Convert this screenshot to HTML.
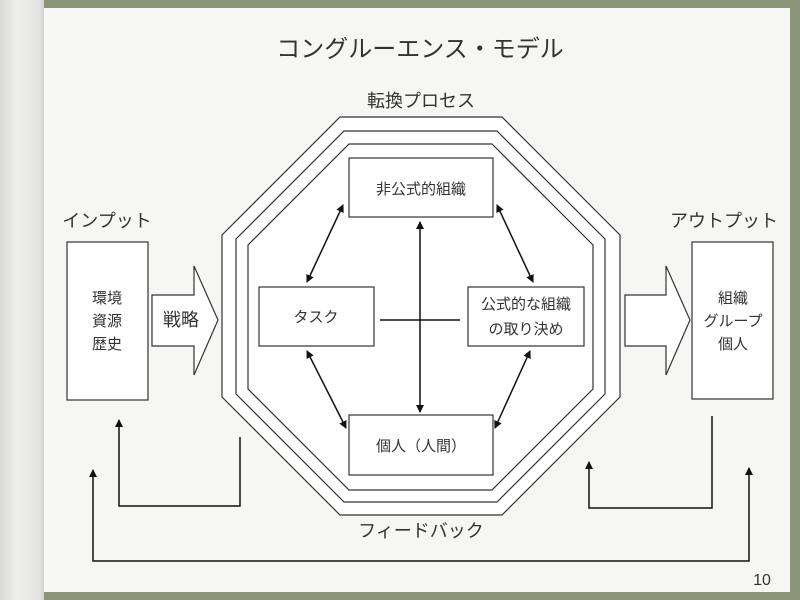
<!DOCTYPE html>
<html><head><meta charset="utf-8"><style>
html,body{margin:0;padding:0;}
body{width:800px;height:600px;overflow:hidden;background:#8c9479;position:relative;font-family:"Liberation Sans","Noto Sans CJK JP",sans-serif;}
.page{position:absolute;left:0;top:8px;width:790px;height:584px;background:#f6f6f4;}
.curl{position:absolute;left:0;top:0;width:44px;height:600px;background:linear-gradient(to right,#d8d8d6,#eeeeec 40%,#e4e4e2 90%,#cfcfcd);}
svg{position:absolute;left:0;top:0;}
text{font-family:"Liberation Sans","Noto Sans CJK JP",sans-serif;fill:#333;}
</style></head><body>
<div class="page"></div>
<div class="curl"></div>
<svg width="800" height="600" viewBox="0 0 800 600">
<defs><marker id="a" markerWidth="8" markerHeight="8" refX="7" refY="4" orient="auto-start-reverse" markerUnits="userSpaceOnUse"><path d="M0,0 L8,4 L0,8 z" fill="#111"/></marker></defs>
<g fill="#fff" stroke="#333" stroke-width="1.2">
<polygon points="340,117 502,117 620,235 620,397 502,515 340,515 222,397 222,235"/>
<polygon points="344,131 497,131 605,239 605,394 497,502 344,502 236,394 236,239"/>
<polygon points="349,144 492,144 593,245 593,389 492,490 349,490 248,389 248,245"/>
<rect x="349" y="158" width="144" height="59"/>
<rect x="259" y="287" width="115" height="59"/>
<rect x="468" y="287" width="116" height="59"/>
<rect x="349" y="415" width="144" height="60"/>
<rect x="67" y="242" width="81" height="158"/>
<rect x="692" y="242" width="81" height="157"/>
<polygon points="152,295 194,295 194,266 218,320 194,375 194,346 152,346"/>
<polygon points="625,295 666,295 666,266 690,320 666,375 666,346 625,346"/>
</g>
<g stroke="#111" stroke-width="1.5" fill="none">
<line x1="380" y1="320" x2="460" y2="320"/>
<line x1="420" y1="222" x2="420" y2="412" marker-start="url(#a)" marker-end="url(#a)"/>
<line x1="343" y1="205" x2="307" y2="282" marker-start="url(#a)" marker-end="url(#a)"/>
<line x1="307" y1="351" x2="346" y2="428" marker-start="url(#a)" marker-end="url(#a)"/>
<line x1="497" y1="205" x2="533" y2="282" marker-start="url(#a)" marker-end="url(#a)"/>
<line x1="530" y1="351" x2="495" y2="428" marker-start="url(#a)" marker-end="url(#a)"/>
<polyline points="240,437 240,506 119,506 119,420" marker-end="url(#a)"/>
<polyline points="712,416 712,508 589,508 589,462" marker-end="url(#a)"/>
<polyline points="749,468 749,561 93,561 93,470" marker-start="url(#a)" marker-end="url(#a)"/>
</g>
<text x="420" y="57" font-size="24" text-anchor="middle">コングルーエンス・モデル</text>
<text x="421" y="107" font-size="18" text-anchor="middle">転換プロセス</text>
<text x="107" y="227" font-size="18" text-anchor="middle">インプット</text>
<text x="724" y="227" font-size="18" text-anchor="middle">アウトプット</text>
<text x="421" y="537" font-size="18" text-anchor="middle">フィードバック</text>
<text x="421" y="194" font-size="15" text-anchor="middle">非公式的組織</text>
<text x="316" y="322" font-size="15" text-anchor="middle">タスク</text>
<text x="526" y="309" font-size="15" text-anchor="middle">公式的な組織</text>
<text x="526" y="334" font-size="15" text-anchor="middle">の取り決め</text>
<text x="421" y="451" font-size="15" text-anchor="middle">個人（人間）</text>
<text x="107" y="303" font-size="15" text-anchor="middle">環境</text>
<text x="107" y="326" font-size="15" text-anchor="middle">資源</text>
<text x="107" y="349" font-size="15" text-anchor="middle">歴史</text>
<text x="733" y="303" font-size="15" text-anchor="middle">組織</text>
<text x="733" y="326" font-size="15" text-anchor="middle">グループ</text>
<text x="733" y="349" font-size="15" text-anchor="middle">個人</text>
<text x="181" y="326" font-size="18" text-anchor="middle">戦略</text>
<text x="762" y="585" font-size="16" text-anchor="middle" fill="#555">10</text>
</svg>
</body></html>
